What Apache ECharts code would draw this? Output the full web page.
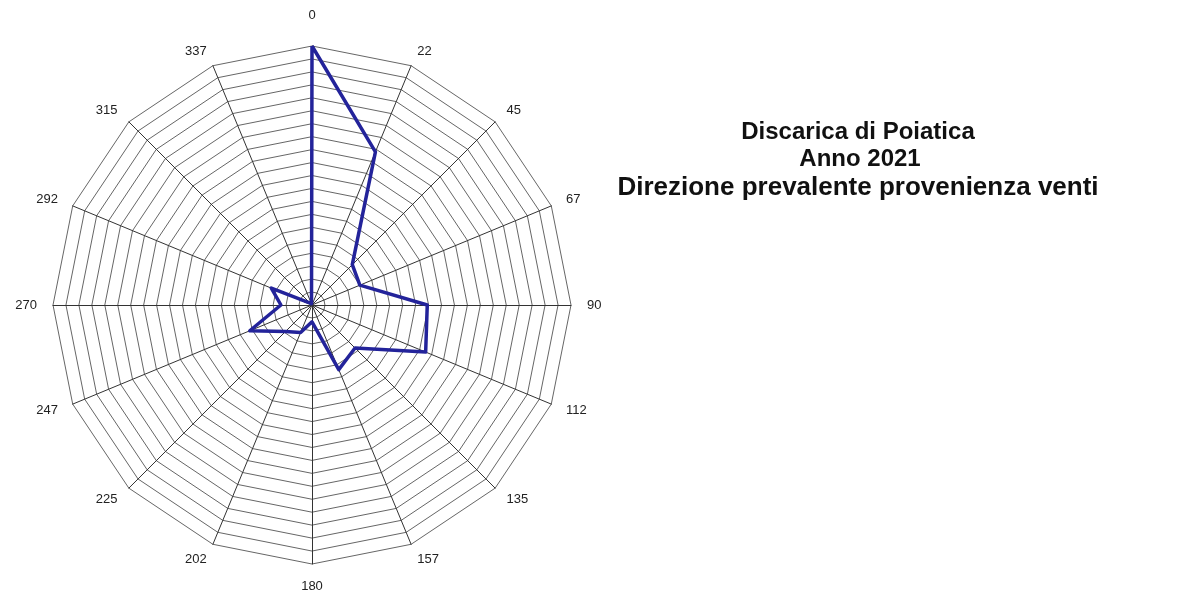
<!DOCTYPE html>
<html>
<head>
<meta charset="utf-8">
<script src="https://cdn.jsdelivr.net/npm/echarts@6/dist/echarts.min.js"></script>
<style>html,body{margin:0;padding:0;background:#fff}#c{width:1184px;height:593px}</style>
</head>
<body>
<div id="c"></div>
<script>
// Directions listed clockwise from North
const directions = ["0","22","45","67","90","112","135","157","180","202","225","247","270","292","315","337"];
const frequency = [20, 12.8, 4.4, 4.0, 8.9, 9.5, 4.7, 5.4, 1.3, 2.3, 2.9, 5.2, 2.4, 3.4, 0.2, 0.1];
const maxValue = 20;
const rings = 20;
const titleLines = ["Discarica di Poiatica", "Anno 2021", "Direzione prevalente provenienza venti"];

// ECharts radar places indicators counter-clockwise; reorder so they run clockwise
const order = [0].concat(directions.map((_, i) => i).slice(1).reverse());
const dirCW = order.map(i => directions[i]);
const valCW = order.map(i => frequency[i]);

const titleFont = { fontFamily: 'Liberation Sans, Arial, sans-serif', fontWeight: 'bold', color: '#111' };

const chart = echarts.init(document.getElementById('c'));
chart.setOption({
  backgroundColor: '#fff',
  animation: false,
  title: [
    { text: titleLines[0], left: 853, top: 115, textAlign: 'center', textStyle: Object.assign({ fontSize: 24, lineHeight: 24 }, titleFont) },
    { text: titleLines[1], left: 855, top: 142, textAlign: 'center', textStyle: Object.assign({ fontSize: 24, lineHeight: 24 }, titleFont) },
    { text: titleLines[2], left: 853, top: 170, textAlign: 'center', textStyle: Object.assign({ fontSize: 26, lineHeight: 26 }, titleFont) }
  ],
  radar: {
    center: [312, 305],
    radius: 259,
    startAngle: 90,
    shape: 'polygon',
    splitNumber: rings,
    indicator: dirCW.map(d => ({ name: d, max: maxValue, min: 0 })),
    axisName: {
      color: '#222', fontFamily: 'Liberation Sans, Arial, sans-serif', fontSize: 13,
      formatter: (name) => name === directions[0] ? '{top|' + name + '}' : name,
      rich: { top: { padding: [0, 0, 8, 0], fontSize: 13, color: '#222', fontFamily: 'Liberation Sans, Arial, sans-serif' } }
    },
    nameGap: 16,
    axisLine: { lineStyle: { color: '#333', width: 1 } },
    splitLine: { lineStyle: { color: '#666', width: 1 } },
    splitArea: { show: false },
    axisTick: { show: false },
    axisLabel: { show: false }
  },
  series: [{
    type: 'radar',
    symbol: 'none',
    lineStyle: { color: '#23239a', width: 3.5 },
    data: [{ value: valCW }]
  }]
});
</script>
</body>
</html>
